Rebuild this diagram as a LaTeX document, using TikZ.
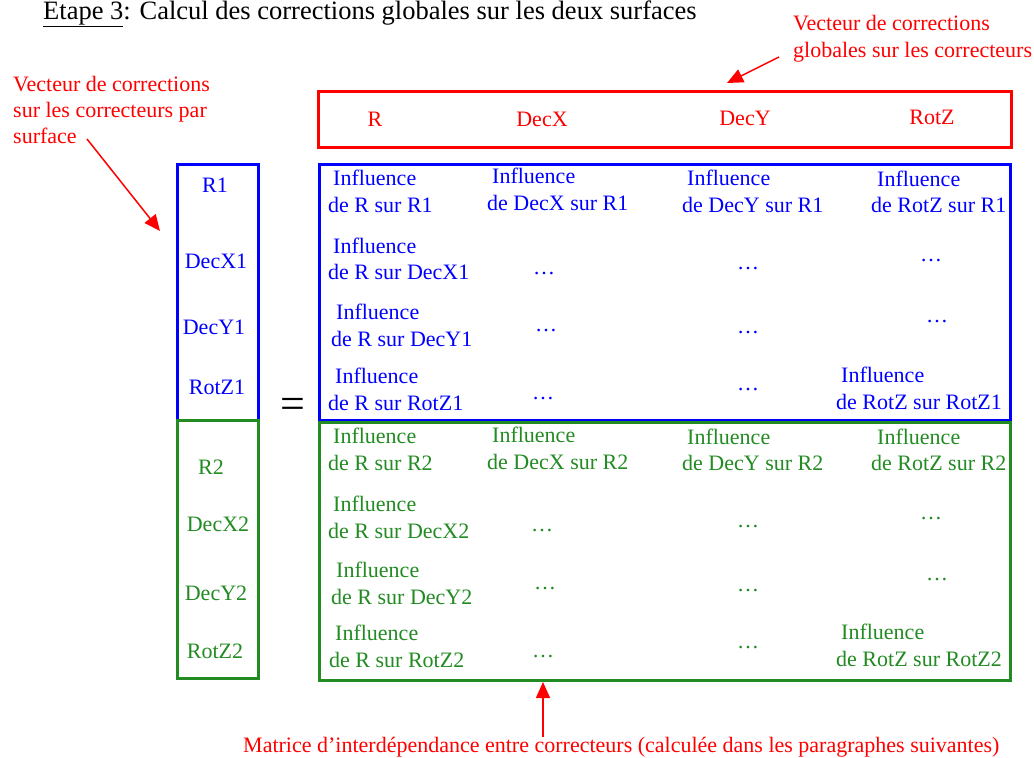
\documentclass[tikz,border=0pt]{standalone}
\usepackage{fontspec}
\setmainfont{Liberation Serif}
\usetikzlibrary{arrows.meta}
\definecolor{myred}{RGB}{255,0,0}
\definecolor{myblue}{RGB}{0,0,255}
\definecolor{mygreen}{RGB}{34,139,34}
\newcommand\mcell[7]{%
  \node[txt,#7] (#1a) at (#2,#4) {Influence};
  \node[txt,#7] (#1b) at (#3,#5) {#6};
}
\begin{document}
\begin{tikzpicture}[x=1pt,y=-1pt,
  txt/.style={anchor=base west,inner sep=0pt,font=\fontsize{22}{26}\selectfont},
  ctxt/.style={anchor=base,inner sep=0pt,font=\fontsize{22}{26}\selectfont},
  box/.style={draw=#1,line width=3pt,inner sep=0pt},
  redarrow/.style={draw=myred,line width=1.5pt,-{Triangle[length=16pt,width=14pt]}}]
\useasboundingbox[fill=white] (0,0) rectangle (1034,758);

% title
\node[txt,font=\fontsize{26.5}{30}\selectfont] (title) at (43,19) {\underline{Étape 3}: Calcul des corrections globales sur les deux surfaces};

% boxes
\node[box=myred,minimum width=693pt,minimum height=56pt] (topvec) at (664.5,119) {};
\node[box=myblue,minimum width=81pt,minimum height=256pt] (leftblue) at (217.5,292) {};
\node[box=myblue,minimum width=691pt,minimum height=256pt] (matblue) at (664.5,292) {};
\node[box=mygreen,minimum width=81pt,minimum height=258pt] (leftgreen) at (217.5,549) {};
\node[box=mygreen,minimum width=691pt,minimum height=258pt] (matgreen) at (664.5,551) {};

% top vector labels
\node[ctxt,myred] (tR) at (375,126) {R};
\node[ctxt,myred] (tDX) at (542,126) {DecX};
\node[ctxt,myred] (tDY) at (745,125) {DecY};
\node[ctxt,myred] (tRZ) at (932,124) {RotZ};

% left vector labels
\node[ctxt,myblue] (lR1) at (215,192) {R1};
\node[ctxt,myblue] (lDX1) at (216,268) {DecX1};
\node[ctxt,myblue] (lDY1) at (214,334) {DecY1};
\node[ctxt,myblue] (lRZ1) at (217,394) {RotZ1};
\node[ctxt,mygreen] (lR2) at (211,474) {R2};
\node[ctxt,mygreen] (lDX2) at (218,531) {DecX2};
\node[ctxt,mygreen] (lDY2) at (216,600) {DecY2};
\node[ctxt,mygreen] (lRZ2) at (215,658) {RotZ2};

% equals
\node[inner sep=0pt,font=\fontsize{44}{44}\selectfont] (eq) at (293,408) {=};

% blue matrix cells
\mcell{b11}{333}{328}{185}{212}{de R sur R1}{myblue}
\mcell{b12}{492}{487}{183}{210}{de DecX sur R1}{myblue}
\mcell{b13}{687}{682}{185}{212}{de DecY sur R1}{myblue}
\mcell{b14}{877}{871}{186}{212}{de RotZ sur R1}{myblue}
\mcell{b21}{333}{328}{253}{279}{de R sur DecX1}{myblue}
\mcell{b31}{336}{331}{319}{346}{de R sur DecY1}{myblue}
\mcell{b41}{335}{328}{383}{410}{de R sur RotZ1}{myblue}
\mcell{b44}{841}{836}{382}{409}{de RotZ sur RotZ1}{myblue}
\node[ctxt,myblue] (b22) at (544,274.5) {…};
\node[ctxt,myblue] (b23) at (748,269.5) {…};
\node[ctxt,myblue] (b24) at (931,261.5) {…};
\node[ctxt,myblue] (b32) at (546,331.5) {…};
\node[ctxt,myblue] (b33) at (748,333.5) {…};
\node[ctxt,myblue] (b34) at (937,322.5) {…};
\node[ctxt,myblue] (b42) at (543,399.5) {…};
\node[ctxt,myblue] (b43) at (748,390.5) {…};

% green matrix cells
\mcell{g11}{333}{328}{443}{470}{de R sur R2}{mygreen}
\mcell{g12}{492}{487}{442}{469}{de DecX sur R2}{mygreen}
\mcell{g13}{687}{682}{444}{470}{de DecY sur R2}{mygreen}
\mcell{g14}{877}{871}{444}{470}{de RotZ sur R2}{mygreen}
\mcell{g21}{333}{328}{511}{538}{de R sur DecX2}{mygreen}
\mcell{g31}{336}{331}{577}{604}{de R sur DecY2}{mygreen}
\mcell{g41}{335}{329}{640}{667}{de R sur RotZ2}{mygreen}
\mcell{g44}{841}{836}{639}{666}{de RotZ sur RotZ2}{mygreen}
\node[ctxt,mygreen] (g22) at (542,531.5) {…};
\node[ctxt,mygreen] (g23) at (748,527.5) {…};
\node[ctxt,mygreen] (g24) at (931,519.5) {…};
\node[ctxt,mygreen] (g32) at (545,589.5) {…};
\node[ctxt,mygreen] (g33) at (748,591.5) {…};
\node[ctxt,mygreen] (g34) at (937,580.5) {…};
\node[ctxt,mygreen] (g42) at (543,657.5) {…};
\node[ctxt,mygreen] (g43) at (748,648.5) {…};

% annotations
\node[txt,myred] (annTR1) at (793,30) {Vecteur de corrections};
\node[txt,myred] (annTR2) at (793,57) {globales sur les correcteurs};
\node[txt,myred] (annL1) at (13,91) {Vecteur de corrections};
\node[txt,myred] (annL2) at (13,117) {sur les correcteurs par};
\node[txt,myred] (annL3) at (13,143) {surface};
\node[txt,myred] (annB) at (243,752) {Matrice d’interdépendance entre correcteurs (calculée dans les paragraphes suivantes)};

\coordinate (trs) at (779,57);
\coordinate (tre) at (727,83);
\coordinate (ls) at (87,139);
\coordinate (le) at (160,231);
\coordinate (bs) at (543,737);
\coordinate (be) at (543,682);
\draw[redarrow] (trs) -- (tre);
\draw[redarrow] (ls) -- (le);
\draw[redarrow] (bs) -- (be);
\end{tikzpicture}
\end{document}
